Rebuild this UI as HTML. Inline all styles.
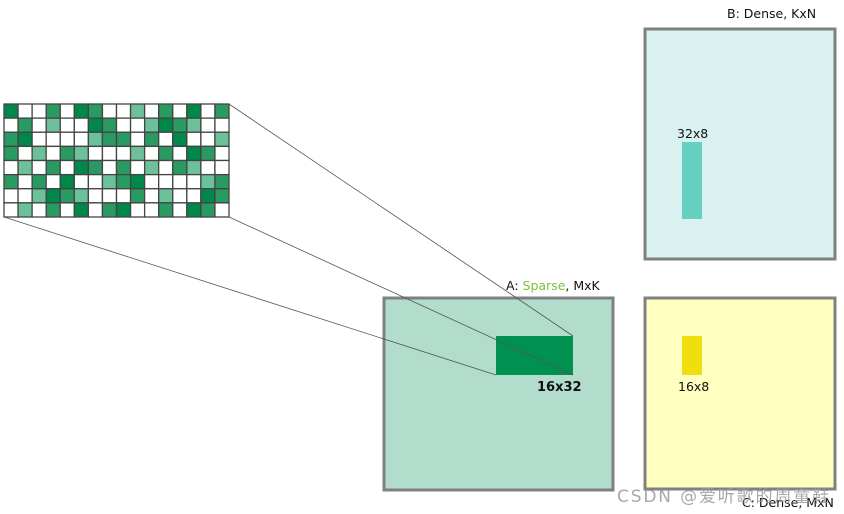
<!DOCTYPE html>
<html><head><meta charset="utf-8"><style>
html,body{margin:0;padding:0;background:#fff;width:844px;height:514px;overflow:hidden}
svg{display:block;font-family:"DejaVu Sans","Liberation Sans","Noto Sans CJK SC",sans-serif}
</style></head><body>
<svg id="s" width="844" height="514" viewBox="0 0 844 514">
<g id="grid"></g>
<rect x="384" y="298" width="229" height="192" fill="#b2dccb" stroke="#808080" stroke-width="3"/>
<rect x="496" y="336" width="77" height="39" fill="#009150"/>
<g stroke="#555" stroke-width="0.8">
<line x1="229" y1="104" x2="573" y2="336"/>
<line x1="229" y1="217" x2="573" y2="375"/>
<line x1="4" y1="217" x2="496" y2="375"/>
</g>
<text x="537" y="391" font-size="13" font-weight="bold" fill="#111">16x32</text>
<text x="506" y="290" font-size="12.5" fill="#111">A: <tspan fill="#7cc03a">Sparse</tspan>, MxK</text>
<rect x="645" y="29" width="190" height="230" fill="#daf2ef" stroke="#808080" stroke-width="3"/>
<rect x="682" y="142" width="20" height="77" fill="#66cfc0"/>
<text x="677" y="138" font-size="12.5" fill="#111">32x8</text>
<text x="727" y="18" font-size="12.5" fill="#111">B: Dense, KxN</text>
<rect x="645" y="298" width="190" height="191" fill="#ffffc0" stroke="#808080" stroke-width="3"/>
<rect x="682" y="336" width="20" height="39" fill="#f0de10"/>
<text x="678" y="391" font-size="12.5" fill="#111">16x8</text>
<text x="742" y="507" font-size="12.5" fill="#111">C: Dense, MxN</text>
<text x="617" y="502" font-size="17" textLength="212" fill="#999" fill-opacity="0.85">CSDN @爱听歌的周童鞋</text>
</svg>
<script>
const rows = [
"D00M0DM00L0M0D0M",
"0M0L00DM00LDML00",
"MD0000LMM0M0D00L",
"M0L0ML000L0M0DM0",
"0L0M0DM0M0L0ML00",
"M0M0D00LMD0000LM",
"00LDML000M0L00DM",
"0L0M0D0MD00M0DM0"
];
const colors = {D:"#00874a",M:"#2a9a63",L:"#6cc09a","0":"#ffffff"};
const g = document.getElementById('grid');
const ns = "http://www.w3.org/2000/svg";
const x0=4,y0=104,cw=225/16,ch=113/8;
rows.forEach((r,i)=>{[...r].forEach((c,j)=>{
  const el=document.createElementNS(ns,'rect');
  el.setAttribute('x',x0+j*cw);el.setAttribute('y',y0+i*ch);
  el.setAttribute('width',cw);el.setAttribute('height',ch);
  el.setAttribute('fill',colors[c]);el.setAttribute('stroke','#444');el.setAttribute('stroke-width','1.3');
  
  
  g.appendChild(el);
});});
</script>
</body></html>
